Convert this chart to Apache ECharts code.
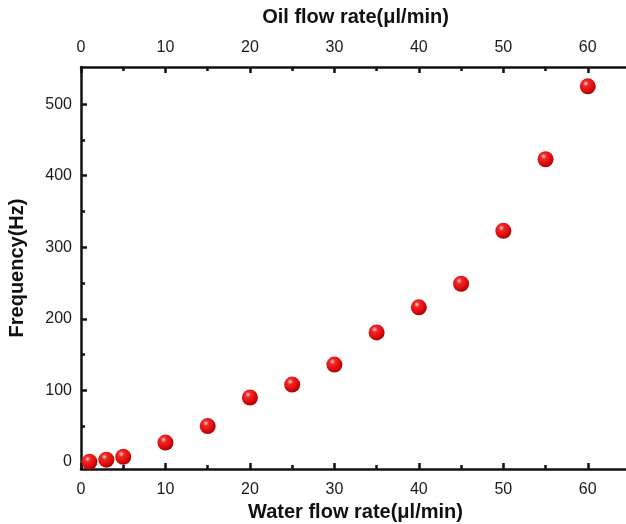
<!DOCTYPE html>
<html>
<head>
    <meta charset="utf-8">
    <script src="https://cdn.jsdelivr.net/npm/echarts@6/dist/echarts.min.js"></script>
    <style>html,body{margin:0;padding:0;background:#fff;}</style>
</head>
<body>
<div id="main" style="width: 626px;height:524px;"></div>
<script type="text/javascript">
    // water flow rate (µl/min) and measured frequency (Hz)
    var waterFlow = [1, 3, 5, 10, 15, 20, 25, 30, 35, 40, 45, 50, 55, 60];
    var frequency = [0, 3, 7, 27, 50, 90, 108, 136, 181, 216, 249, 323, 423, 525];
    var xMajor = [0, 10, 20, 30, 40, 50, 60];
    var xMinor = [5, 15, 25, 35, 45, 55];
    var yMajor = [0, 100, 200, 300, 400, 500];
    var yMinor = [50, 150, 250, 350, 450];

    var font = 'Liberation Sans';
    var lineStyle = { color: '#111', width: 2.5 };

    function xAxisDef(pos, major, withLabels, name) {
        return {
            type: 'value', position: pos, min: 0, max: 65,
            name: name || '', nameLocation: 'middle', nameGap: pos === 'top' ? 40 : 33,
            nameTextStyle: { fontFamily: font, fontWeight: 'bold', fontSize: 20, color: '#111' },
            axisLine: { show: withLabels, onZero: false, lineStyle: lineStyle },
            axisTick: { show: true, inside: true, length: major ? 6 : 4, customValues: major ? xMajor : xMinor,
                        lineStyle: { color: '#111', width: 2.5 } },
            axisLabel: { show: withLabels, customValues: xMajor, margin: pos === 'top' ? 11 : 13,
                         fontFamily: font, fontSize: 16, color: '#1a1a1a' },
            splitLine: { show: false }
        };
    }

    function yAxisDef(major) {
        return {
            type: 'value', position: 'left', min: -10, max: 552,
            name: major ? 'Frequency(Hz)' : '', nameLocation: 'middle', nameGap: 54,
            nameTextStyle: { fontFamily: font, fontWeight: 'bold', fontSize: 20, color: '#111' },
            axisLine: { show: major, onZero: false, lineStyle: lineStyle },
            axisTick: { show: true, inside: true, length: major ? 6 : 4, customValues: major ? yMajor : yMinor,
                        lineStyle: { color: '#111', width: 2.5 } },
            axisLabel: { show: major, customValues: yMajor, margin: 9,
                         fontFamily: font, fontSize: 16, color: '#1a1a1a' },
            splitLine: { show: false }
        };
    }

    var myChart = echarts.init(document.getElementById('main'));
    var option = {
        animation: false,
        grid: { left: 81, top: 67, width: 549, bottom: 55, outerBoundsMode: 'none', containLabel: false },
        xAxis: [
            xAxisDef('bottom', true, true, 'Water flow rate(\u03bcl/min)'),
            xAxisDef('bottom', false, false),
            xAxisDef('top', true, true, 'Oil flow rate(\u03bcl/min)'),
            xAxisDef('top', false, false)
        ],
        yAxis: [yAxisDef(true), yAxisDef(false)],
        series: {
            type: 'scatter',
            xAxisIndex: 0,
            yAxisIndex: 0,
            symbolSize: 16,
            itemStyle: {
                color: {
                    type: 'radial', x: 0.38, y: 0.32, r: 0.7,
                    colorStops: [
                        { offset: 0, color: '#ffd0d0' },
                        { offset: 0.25, color: '#f02828' },
                        { offset: 0.7, color: '#dc0a0a' },
                        { offset: 1, color: '#a80000' }
                    ]
                },
                opacity: 1
            },
            data: waterFlow.map(function (x, i) {
                return [x, frequency[i]];
            })
        }
    };
    myChart.setOption(option);
</script>
</body>
</html>
